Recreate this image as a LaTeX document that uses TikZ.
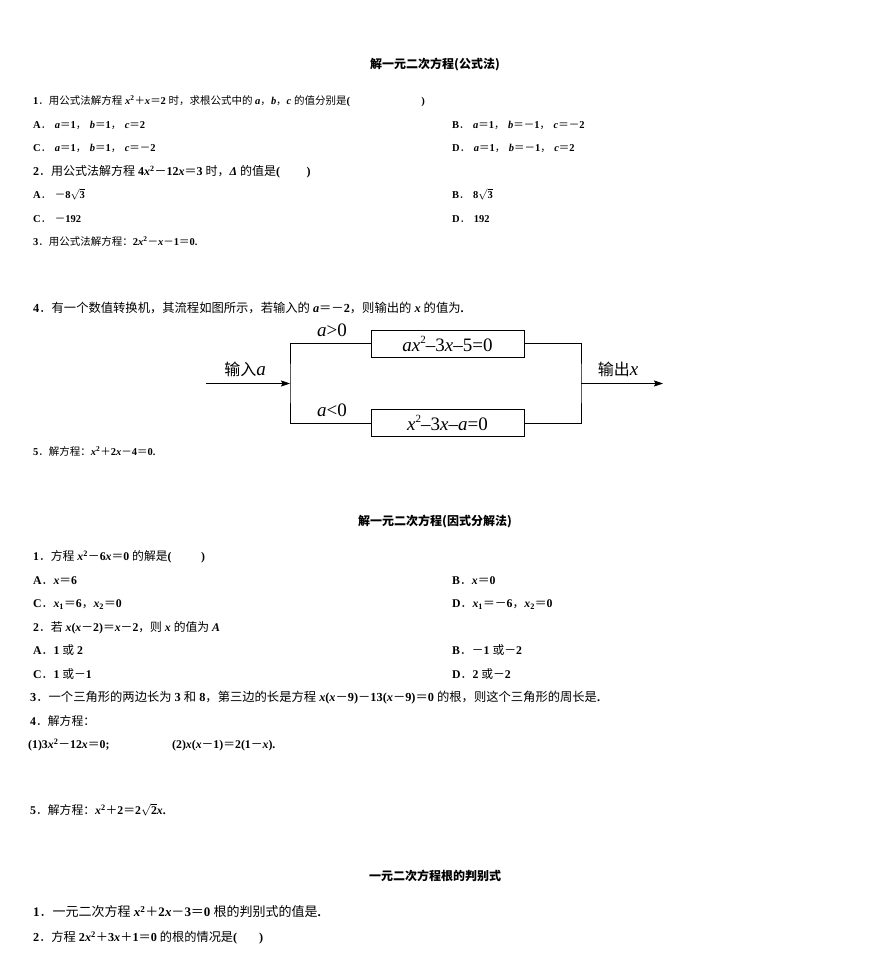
\documentclass[tikz,border=0pt]{standalone}
\usepackage{fontspec}
\usetikzlibrary{arrows.meta}
\setmainfont{Liberation Serif}
\newfontfamily\zh{Noto Sans CJK SC}
\newcommand\Z[1]{{\zh\mdseries#1}}
\newcommand\V[1]{{\itshape#1}}
\newcommand\sq[1]{$\sqrt{\mbox{#1}}$}
\newcommand\gp{\hspace{3.5pt}}
\newcommand\supf[1]{\raisebox{0.42em}{\fontsize{11}{11}\selectfont#1}}
\newcommand\titlefont{\fontsize{12}{14}\selectfont\zh\bfseries}
\newcommand\flowfont{\fontsize{19}{21}\selectfont\mdseries}
\newcommand\ZF[1]{{\zh\fontsize{16}{18}\selectfont#1}}
\tikzset{
  txt/.style={anchor=base west, inner sep=0pt, font=\fontsize{#1}{#1}\selectfont\bfseries},
  txt/.default=10.5,
  ttl/.style={anchor=base, inner sep=0pt, font=\titlefont},
  fbox/.style={draw, line width=0.8pt, minimum width=153pt, minimum height=27pt, inner sep=0pt, font=\flowfont},
  flab/.style={inner sep=0pt, font=\flowfont},
  conn/.style={line width=0.8pt},
  arr/.style={conn, -{Stealth[length=9pt,width=6pt,inset=1.5pt]}}
}
\begin{document}
\begin{tikzpicture}[x=1pt,y=-1pt]
\useasboundingbox[fill=white] (0,0) rectangle (870,980);
% ---------- Section 1 ----------
\node[ttl] (t1) at (435,68.5) {解一元二次方程(公式法)};
\node[txt] (s1q1) at (33,104.5) {1\Z{．用公式法解方程} \V{x}\textsuperscript{2}\Z{＋}\V{x}\Z{＝}2 \Z{时，求根公式中的} \V{a}\Z{，}\V{b}\Z{，}\V{c} \Z{的值分别是}(\hspace{6.8em})};
\node[txt] (s1a1) at (33,128) {A\Z{．}\gp\V{a}\Z{＝}1\Z{，}\gp\V{b}\Z{＝}1\Z{，}\gp\V{c}\Z{＝}2};
\node[txt] (s1b1) at (452,128) {B\Z{．}\gp\V{a}\Z{＝}1\Z{，}\gp\V{b}\Z{＝－}1\Z{，}\gp\V{c}\Z{＝－}2};
\node[txt] (s1c1) at (33,151.5) {C\Z{．}\gp\V{a}\Z{＝}1\Z{，}\gp\V{b}\Z{＝}1\Z{，}\gp\V{c}\Z{＝－}2};
\node[txt] (s1d1) at (452,151.5) {D\Z{．}\gp\V{a}\Z{＝}1\Z{，}\gp\V{b}\Z{＝－}1\Z{，}\gp\V{c}\Z{＝}2};
\node[txt=12] (s1q2) at (33,175.5) {2\Z{．用公式法解方程} 4\V{x}\textsuperscript{2}\Z{－}12\V{x}\Z{＝}3 \Z{时，}\V{Δ} \Z{的值是}(\hspace{2.2em})};
\node[txt] (s1a2) at (33,198.5) {A\Z{．}\gp\Z{－}8\sq{3}};
\node[txt] (s1b2) at (452,198.5) {B\Z{．}\gp 8\sq{3}};
\node[txt] (s1c2) at (33,222) {C\Z{．}\gp\Z{－}192};
\node[txt] (s1d2) at (452,222) {D\Z{．}\gp 192};
\node[txt] (s1q3) at (33,245.5) {3\Z{．用公式法解方程：}2\V{x}\textsuperscript{2}\Z{－}\V{x}\Z{－}1\Z{＝}0.};
\node[txt=12.3] (s1q4) at (33,312) {4\Z{．有一个数值转换机，其流程如图所示，若输入的} \V{a}\Z{＝－}2\Z{，则输出的} \V{x} \Z{的值为}.};
% flowchart
\coordinate (in) at (206,383.5);
\coordinate (jl) at (290,383.5);
\coordinate (jr) at (581,383.5);
\coordinate (out) at (663,383.5);
\node[fbox] (b1) at (447.5,343.5) {\V{ax}\supf{2}–3\V{x}–5=0};
\node[fbox] (b2) at (447.5,423) {\V{x}\supf{2}–3\V{x}–\V{a}=0};
\draw[arr] (in) -- (jl);
\draw[conn] (b1.west) -| (jl) |- (b2.west);
\draw[conn] (b1.east) -| (jr) |- (b2.east);
\draw[arr] (jr) -- (out);
\node[flab] (gt) at (332,330) {\V{a}>0};
\node[flab] (lt) at (332,410.5) {\V{a}<0};
\node[flab] (inl) at (245,369.5) {\ZF{输入}\V{a}};
\node[flab] (outl) at (618,369.5) {\ZF{输出}\V{x}};
\node[txt] (s1q5) at (33,455) {5\Z{．解方程：}\V{x}\textsuperscript{2}\Z{＋}2\V{x}\Z{－}4\Z{＝}0.};
% ---------- Section 2 ----------
\node[ttl] (t2) at (435,525.5) {解一元二次方程(因式分解法)};
\node[txt=11.8] (s2q1) at (33,560.5) {1\Z{．方程} \V{x}\textsuperscript{2}\Z{－}6\V{x}\Z{＝}0 \Z{的解是}(\hspace{2.5em})};
\node[txt=11.8] (s2a1) at (33,584) {A\Z{．}\V{x}\Z{＝}6};
\node[txt=11.8] (s2b1) at (452,584) {B\Z{．}\V{x}\Z{＝}0};
\node[txt=11.8] (s2c1) at (33,607.5) {C\Z{．}\V{x}\textsubscript{1}\Z{＝}6\Z{，}\V{x}\textsubscript{2}\Z{＝}0};
\node[txt=11.8] (s2d1) at (452,607.5) {D\Z{．}\V{x}\textsubscript{1}\Z{＝－}6\Z{，}\V{x}\textsubscript{2}\Z{＝}0};
\node[txt=11.8] (s2q2) at (33,631) {2\Z{．若} \V{x}(\V{x}\Z{－}2)\Z{＝}\V{x}\Z{－}2\Z{，则} \V{x} \Z{的值为} \V{A}};
\node[txt=11.8] (s2a2) at (33,654.5) {A\Z{．}1 \Z{或} 2};
\node[txt=11.8] (s2b2) at (452,654.5) {B\Z{．－}1 \Z{或－}2};
\node[txt=11.8] (s2c2) at (33,678) {C\Z{．}1 \Z{或－}1};
\node[txt=11.8] (s2d2) at (452,678) {D\Z{．}2 \Z{或－}2};
\node[txt=12.3] (s2q3) at (30,701.5) {3\Z{．一个三角形的两边长为} 3 \Z{和} 8\Z{，第三边的长是方程} \V{x}(\V{x}\Z{－}9)\Z{－}13(\V{x}\Z{－}9)\Z{＝}0 \Z{的根，则这个三角形的周长是}.};
\node[txt=11.8] (s2q4) at (30,725) {4\Z{．解方程：}};
\node[txt=11.8] (s2q4a) at (28,748.5) {(1)3\V{x}\textsuperscript{2}\Z{－}12\V{x}\Z{＝}0;};
\node[txt=11.8] (s2q4b) at (172,748.5) {(2)\V{x}(\V{x}\Z{－}1)\Z{＝}2(1\Z{－}\V{x}).};
\node[txt=11.8] (s2q5) at (30,814.5) {5\Z{．解方程：}\V{x}\textsuperscript{2}\Z{＋}2\Z{＝}2\sq{2}\V{x}.};
% ---------- Section 3 ----------
\node[ttl] (t3) at (435,880.5) {一元二次方程根的判别式};
\node[txt=13] (s3q1) at (33,916.5) {1\Z{．一元二次方程} \V{x}\textsuperscript{2}\Z{＋}2\V{x}\Z{－}3\Z{＝}0 \Z{根的判别式的值是}.};
\node[txt=12.2] (s3q2) at (33,941.5) {2\Z{．方程} 2\V{x}\textsuperscript{2}\Z{＋}3\V{x}\Z{＋}1\Z{＝}0 \Z{的根的情况是}(\hspace{1.8em})};
\end{tikzpicture}
\end{document}
